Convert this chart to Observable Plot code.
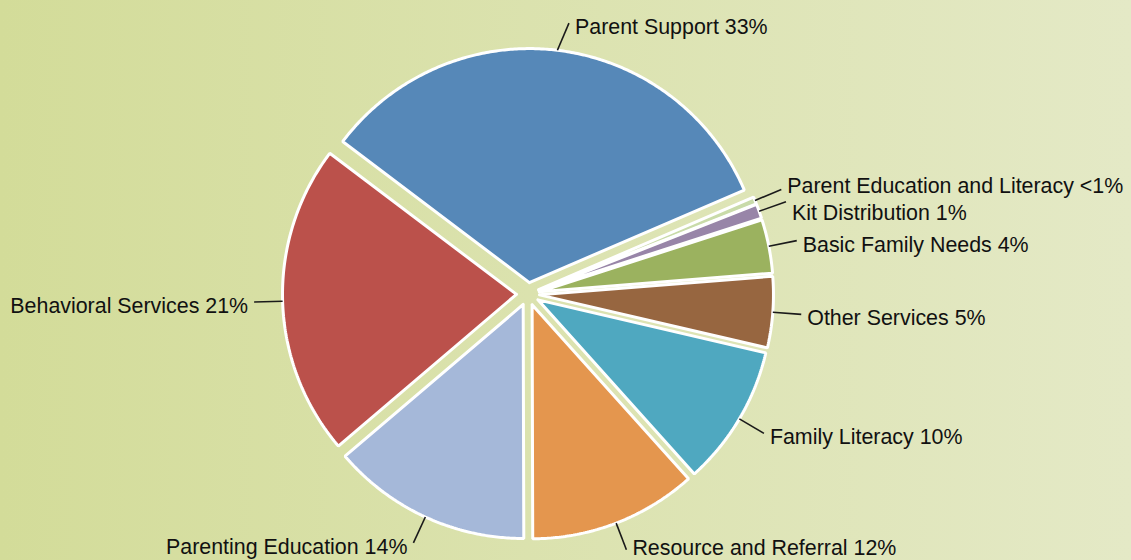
<!DOCTYPE html>
<html><head><meta charset="utf-8">
<script src="https://cdn.jsdelivr.net/npm/d3@7"></script>
<script src="https://cdn.jsdelivr.net/npm/@observablehq/plot@0.6"></script>
<style>
html,body{margin:0;padding:0;background:#dbe2ae;overflow:hidden;}
#chart svg{display:block;}
</style></head><body><div id="chart"></div>
<script>
// ---- data (clockwise from the upper-right small slice) ----
const categories = ["Parent Education and Literacy","Kit Distribution","Basic Family Needs","Other Services","Family Literacy","Resource and Referral","Parenting Education","Behavioral Services","Parent Support"];
const shares = [0.5, 1.0, 3.7, 4.9, 9.7, 11.6, 13.8, 21.5, 33.2];
const shareLabels = ["<1%","1%","4%","5%","10%","12%","14%","21%","33%"];

// ---- styles / layout ----
const palette = ["#c9dba9","#9885a8","#9bb25f","#976640","#4fa8c0","#e4964e","#a5b8d9","#bb514b","#5688b8"];
const W = 1131, H = 560;
const R = 234, cx = 527.5, cy = 293.5, explodePx = 11.5, leaderOutPx = 274;
const startDeg = 66.7;

const e = explodePx / R, rIn = (R + explodePx) / R, rOut = leaderOutPx / R;
const a0 = startDeg * Math.PI / 180;
const arcs = d3.pie().sort(null).value(d => d).startAngle(a0).endAngle(a0 + 2 * Math.PI)(shares);

const slicePts = [];
const labels = [];
arcs.forEach((a, i) => {
  const cat = categories[i];
  const mid = (a.startAngle + a.endAngle) / 2;
  const ox = e * Math.sin(mid), oy = -e * Math.cos(mid);
  slicePts.push({cat, x: ox, y: oy});
  const n = Math.max(4, Math.ceil((a.endAngle - a.startAngle) / (Math.PI / 360)));
  for (let k = 0; k <= n; k++) {
    const t = a.startAngle + (a.endAngle - a.startAngle) * k / n;
    slicePts.push({cat, x: ox + Math.sin(t), y: oy - Math.cos(t)});
  }
  slicePts.push({cat, x: ox, y: oy});
  const right = Math.sin(mid) >= 0;
  const x1 = rIn * Math.sin(mid), y1 = -rIn * Math.cos(mid);
  // near-vertical leaders lean a little further out, as in the source
  const lean = Math.abs(Math.cos(mid)) > 0.95 ? 0.03 * Math.sign(Math.sin(mid) || 1) : 0;
  const x2 = rOut * Math.sin(mid + lean), y2 = -rOut * Math.cos(mid + lean);
  labels.push({cat, text: cat + " " + shareLabels[i], right, x1, y1, x2, y2,
    tx: x2 + (right ? 6 : -6) / R, ty: y2 + 4 / R});
});
// keep labels on each side apart
for (const side of [true, false]) {
  const L = labels.filter(d => d.right === side).sort((a, b) => a.ty - b.ty);
  const gap = 27 / R;
  for (let it = 0; it < 50; it++) {
    for (let j = 0; j < L.length - 1; j++) {
      const d = L[j + 1].ty - L[j].ty;
      if (d < gap) { const s = (gap - d) / 2; L[j].ty -= s; L[j + 1].ty += s; }
    }
  }
}
labels.forEach(d => { d.ty = Math.max(Math.min(d.ty, (548 - cy) / R), (21 - cy) / R); });

const font = "'Liberation Sans', Arial, Helvetica, sans-serif";
const fs = 21.4;
const chart = Plot.plot({
  width: W, height: H, margin: 0,
  x: {domain: [-cx / R, (W - cx) / R], range: [0, W], axis: null},
  y: {domain: [-cy / R, (H - cy) / R], range: [0, H], axis: null},
  color: {domain: categories, range: palette},
  style: {background: "linear-gradient(to right, #d3dc99, #e4e9c6)", fontFamily: font},
  marks: [
    Plot.line(slicePts, {x: "x", y: "y", z: "cat", fill: "cat", stroke: "white", strokeWidth: 3, strokeLinejoin: "miter"}),
    Plot.link(labels, {x1: "x1", y1: "y1", x2: "x2", y2: "y2", stroke: "#1a1a1a", strokeWidth: 1.6}),
    Plot.text(labels.filter(d => d.right), {x: "tx", y: "ty", text: "text", textAnchor: "start", fontSize: fs, fontFamily: font, fill: "#111"}),
    Plot.text(labels.filter(d => !d.right), {x: "tx", y: "ty", text: "text", textAnchor: "end", fontSize: fs, fontFamily: font, fill: "#111"})
  ]
});
document.getElementById("chart").appendChild(chart);
</script></body></html>
